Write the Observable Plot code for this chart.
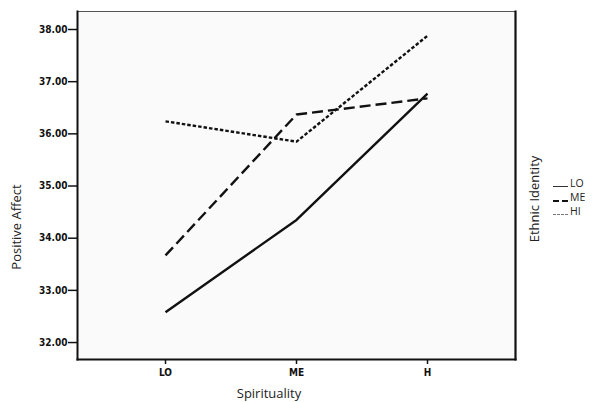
<!DOCTYPE html>
<html>
<head>
<meta charset="utf-8">
<script src="https://cdn.jsdelivr.net/npm/d3@7"></script>
<script src="https://cdn.jsdelivr.net/npm/@observablehq/plot@0.6"></script>
<style>
  html, body { margin: 0; padding: 0; background: #fff; }
  #wrap { position: relative; width: 592px; height: 402px; overflow: hidden; font-family: "Open Sans", "Noto Sans", sans-serif; }
  .lbl { position: absolute; font-size: 13px; color: #222; white-space: nowrap; line-height: 1; }
  .rot { transform: translate(-50%, -50%) rotate(-90deg); }
  .glyph { position: absolute; height: 0; }
</style>
</head>
<body>
<div id="wrap"></div>
<script>
const spirituality = ["LO", "ME", "H"];
const seriesNames = ["LO", "ME", "HI"];
const loValues = [32.58, 34.35, 36.77];
const meValues = [33.67, 36.37, 36.68];
const hiValues = [36.24, 35.85, 37.88];
const yTicks = [32, 33, 34, 35, 36, 37, 38];
const dashes = ["none", "11,5", "3.5,2"];

const rows = [];
[loValues, meValues, hiValues].forEach((vals, i) => {
  vals.forEach((v, j) => rows.push({series: seriesNames[i], x: spirituality[j], y: v}));
});

const tickFont = {fontFamily: "'Liberation Sans Narrow', 'DejaVu Sans Condensed', sans-serif", fontWeight: "bold", fontSize: 10};

const chart = Plot.plot({
  width: 592,
  height: 402,
  marginLeft: 77,
  marginRight: 77,
  marginTop: 11,
  marginBottom: 43,
  style: {background: "transparent", color: "#111"},
  x: {type: "point", domain: spirituality, padding: 0.66},
  y: {domain: [31.675, 38.345]},
  marks: [
    Plot.frame({fill: "#fafafa", stroke: "none"}),
    Plot.axisY({ticks: yTicks, tickFormat: d => d3.format(".2f")(d), tickSize: 9, tickPadding: 1, strokeWidth: 1.5, label: null, ...tickFont}),
    Plot.axisX({tickSize: 5, tickPadding: 4, strokeWidth: 1.5, label: null, ...tickFont}),
    ...seriesNames.map((s, i) => Plot.line(rows.filter(d => d.series === s), {
      x: "x", y: "y", stroke: "#111", strokeWidth: 2.4,
      strokeDasharray: dashes[i], strokeLinecap: "butt"
    })),
    Plot.frame({anchor: "top", stroke: "#555", strokeWidth: 1.2}),
    Plot.frame({anchor: "left", stroke: "#111", strokeWidth: 2}),
    Plot.frame({anchor: "right", stroke: "#111", strokeWidth: 2.2}),
    Plot.frame({anchor: "bottom", stroke: "#111", strokeWidth: 2})
  ]
});

const wrap = document.getElementById("wrap");
wrap.appendChild(chart);

function addLabel(text, x, y, rotate) {
  const d = document.createElement("div");
  d.className = "lbl" + (rotate ? " rot" : "");
  d.textContent = text;
  d.style.left = x + "px";
  d.style.top = y + "px";
  if (!rotate) d.style.transform = "translate(-50%, -50%)";
  wrap.appendChild(d);
  return d;
}
addLabel("Positive Affect", 16, 227, true);
addLabel("Spirituality", 269, 393, false);
addLabel("Ethnic Identity", 534, 199, true);

// legend: glyph lines + labels
const legendBaselines = [187, 201, 215];
const glyphStyles = [
  "border-top: 1px solid #333; left:553px; width:15px;",
  "left:553px; width:16px;",
  "border-top: 1px dashed #777; left:553px; width:15px;"
];
seriesNames.forEach((s, i) => {
  const g = document.createElement("div");
  g.className = "glyph";
  g.style.cssText = glyphStyles[i] + "top:" + (legendBaselines[i] - 1) + "px;";
  if (i === 1) {
    g.style.height = "1.6px";
    g.style.background = "linear-gradient(to right, #111 0 6px, transparent 6px 9px, #111 9px 15px, transparent 15px)";
  }
  wrap.appendChild(g);
  const t = document.createElement("div");
  t.className = "lbl";
  t.textContent = s;
  t.style.fontSize = "10.5px";
  t.style.left = "570px";
  t.style.top = (legendBaselines[i] - 9) + "px";
  wrap.appendChild(t);
});
</script>
</body>
</html>
